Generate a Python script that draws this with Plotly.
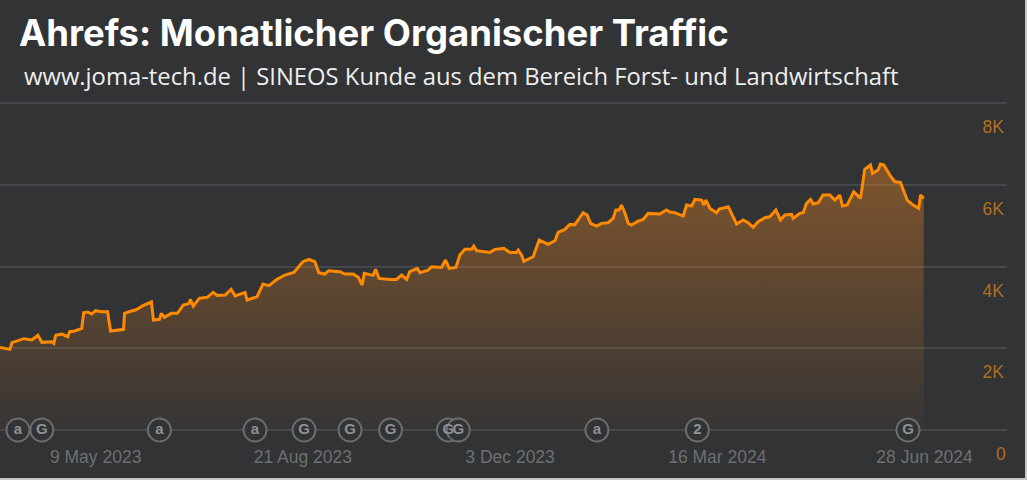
import pandas as pd
import plotly.graph_objects as go

start_date = pd.Timestamp("2023-03-22")

# days since start_date
day_offset = [
    0, 5, 6, 10, 12, 16, 19, 21, 26, 27, 28, 31, 34, 35, 37.5, 41, 42, 44, 46, 48, 51, 54, 55.5, 62, 62.5,
    66, 68, 72, 76, 77, 80, 81, 82.5, 86, 89, 92, 95, 95.5, 97, 100, 104, 107, 109, 113, 116, 118, 123, 124,
    129, 132, 135, 139, 143, 147.5, 152, 155, 158, 160, 163, 165,
    170.6, 173.1, 177.3, 179.8, 181.8, 182.8, 187.3, 188.5, 190.2, 195.7, 199, 201.6, 204.1, 205.7, 209.4,
    210.8, 214.9, 216.6, 221.6, 223.6, 225.5, 228.8, 230.8, 233.3, 236.7, 237.8, 239.2, 245.9, 248.4, 252.9,
    255.9, 259.2, 260.1, 261.8, 262.9, 267.6, 270.6, 275.1, 278.5, 280.1, 283.5, 286, 288.5, 292.7, 294.7,
    296.4, 299.4, 301.9, 305.2, 307.7, 309.1, 310.7, 311.9, 313.6, 315.3, 316.9, 320.3, 322.8, 325.3, 331.2,
    334.5, 336.2,
    338.7, 342.9, 344.6, 347.1, 348.8, 352.1, 353.3, 354.3, 356.3, 359.6, 361, 365.5, 369.7, 373, 375.5, 378,
    380.5, 383.9, 386.4, 389.4, 391.7, 393.9, 397.3, 398.1, 401.4, 403.1, 404.8, 406.8, 408.1, 410.6, 413.1,
    416.5, 419, 421.5, 422.8, 425.2, 428.5, 431.9, 434, 436.9, 437.9, 440.7, 441.9, 443.6, 446.6, 449.1, 451.9,
    455.3, 458.3, 461.1, 462, 463.6,
]
traffic = [
    2022, 1973, 2136, 2201, 2234, 2201, 2316, 2144, 2161, 2120, 2316, 2348, 2283, 2405, 2422, 2487, 2870, 2886,
    2837, 2919, 2894, 2894, 2422, 2462, 2854, 2911, 2935, 3049, 3131, 2691, 2707, 2854, 2756, 2854, 2854, 3057,
    3098, 3196, 3033, 3221, 3245, 3367, 3294, 3302, 3441, 3278, 3367, 3180, 3261, 3571, 3530, 3685, 3791, 3857,
    4117, 4175, 4117, 3848, 3816, 3897,
    3872, 3815, 3815, 3734, 3546, 3832, 3783, 3930, 3709, 3685, 3685, 3791, 3685, 3872, 3954, 3848, 3913, 3995,
    3978, 4158, 3954, 3978, 4280, 4419, 4419, 4500, 4386, 4345, 4419, 4443, 4345, 4345, 4402, 4280, 4125, 4239,
    4647, 4541, 4631, 4835, 4908, 5030, 5022, 5316, 5258, 5055, 4989, 5055, 5071, 5177, 5381, 5381, 5503, 5316,
    5055, 5014, 5112, 5153, 5299, 5283, 5381, 5332,
    5316, 5235, 5504, 5479, 5642, 5626, 5504, 5626, 5422, 5316, 5406, 5463, 5039, 5137, 5072, 4958, 5096, 5194,
    5218, 5381, 5137, 5259, 5275, 5178, 5300, 5316, 5545, 5642, 5528, 5561, 5748, 5748, 5626, 5748, 5479, 5504,
    5830, 5667, 6376, 6482, 6278, 6360, 6507, 6482, 6237, 6074, 6058, 5626, 5504, 5422, 5748, 5667,
]

update_offset = [9, 21, 80, 128, 152.6, 175.7, 196, 225, 230, 299.6, 350, 455.7]
update_label = ["a", "G", "a", "a", "G", "G", "G", "G", "G", "a", "2", "G"]

x_ticks = ["2023-05-09", "2023-08-21", "2023-12-03", "2024-03-16", "2024-06-28"]
x_labels = ["9 May 2023", "21 Aug 2023", "3 Dec 2023", "16 Mar 2024", "28 Jun 2024"]
y_ticks = [0, 2000, 4000, 6000, 8000]
y_labels = ["0", "2K", "4K", "6K", "8K"]

BG = "#323335"
EDGE = "#c8c8c8"

dates = start_date + pd.to_timedelta(day_offset, unit="D")
update_dates = start_date + pd.to_timedelta(update_offset, unit="D")

fig = go.Figure()

fig.add_trace(go.Scatter(
    x=dates, y=traffic, mode="lines",
    line=dict(color="#ff8a00", width=3),
    fill="tozeroy",
    fillgradient=dict(
        type="vertical",
        colorscale=[[0, "rgba(255,140,30,0.02)"], [1, "rgba(255,140,30,0.38)"]],
    ),
    hoverinfo="skip",
))

fig.add_trace(go.Scatter(
    x=update_dates, y=[0] * len(update_dates), mode="markers+text",
    text=["<b>%s</b>" % s for s in update_label], textposition="middle center",
    textfont=dict(family="Liberation Sans", size=15, color="#8f9194"),
    marker=dict(size=23, color=BG, line=dict(color="#6a6c6f", width=2)),
    cliponaxis=False,
    hoverinfo="skip",
))

fig.update_layout(
    width=1027, height=480,
    margin=dict(l=0, r=20, t=101, b=48),
    paper_bgcolor=BG, plot_bgcolor=BG,
    showlegend=False,
    xaxis=dict(
        range=[start_date, start_date + pd.Timedelta(days=505.4)],
        tickmode="array", tickvals=x_ticks, ticktext=x_labels,
        tickfont=dict(family="Liberation Sans", size=17.5, color="#6e6f72"),
        showgrid=False, zeroline=False, showline=False, ticks="",
        ticklabelstandoff=12,
    ),
    yaxis=dict(
        # overshoot of 2px, plotly drops gridlines closer than 1px to the plot edge
        range=[-49, 8049], side="right",
        tickmode="array", tickvals=y_ticks, ticktext=y_labels,
        tickfont=dict(family="Liberation Sans", size=17.5, color="#b06f1e"),
        ticklabelposition="inside",
        ticklabelshift=24,
        gridcolor="#46474a", gridwidth=1.5,
        zeroline=False, showline=False, ticks="",
    ),
    annotations=[
        dict(text="<b>Ahrefs: Monatlicher Organischer Traffic</b>", xref="paper", yref="paper",
             x=17 / 1007, y=1 + 68 / 331, xanchor="left", yanchor="middle", showarrow=False,
             font=dict(family="Inter", size=36.5, color="white")),
        dict(text="www.joma-tech.de | SINEOS Kunde aus dem Bereich Forst- und Landwirtschaft", xref="paper", yref="paper",
             x=22 / 1007, y=1 + 25 / 331, xanchor="left", yanchor="middle", showarrow=False,
             font=dict(family="Open Sans", size=23.8, color="#eeeeee")),
        # the axis drops this label, it sits below the plot area
        dict(text=y_labels[0], xref="paper", yref="y", x=1, y=y_ticks[0], yshift=-24,
             xanchor="right", yanchor="middle", showarrow=False, xshift=1,
             font=dict(family="Liberation Sans", size=17.5, color="#b06f1e")),
    ],
    shapes=[
        dict(type="rect", xref="paper", yref="paper", x0=1025 / 1007, x1=1027 / 1007, y0=-48 / 331, y1=1 + 101 / 331,
             fillcolor=EDGE, line_width=0),
        dict(type="rect", xref="paper", yref="paper", x0=0, x1=1027 / 1007, y0=-48 / 331, y1=-46 / 331,
             fillcolor=EDGE, line_width=0),
    ],
)

fig.write_html("out.html", post_script="document.body.style.margin = '0';", config=dict(displayModeBar=False))
